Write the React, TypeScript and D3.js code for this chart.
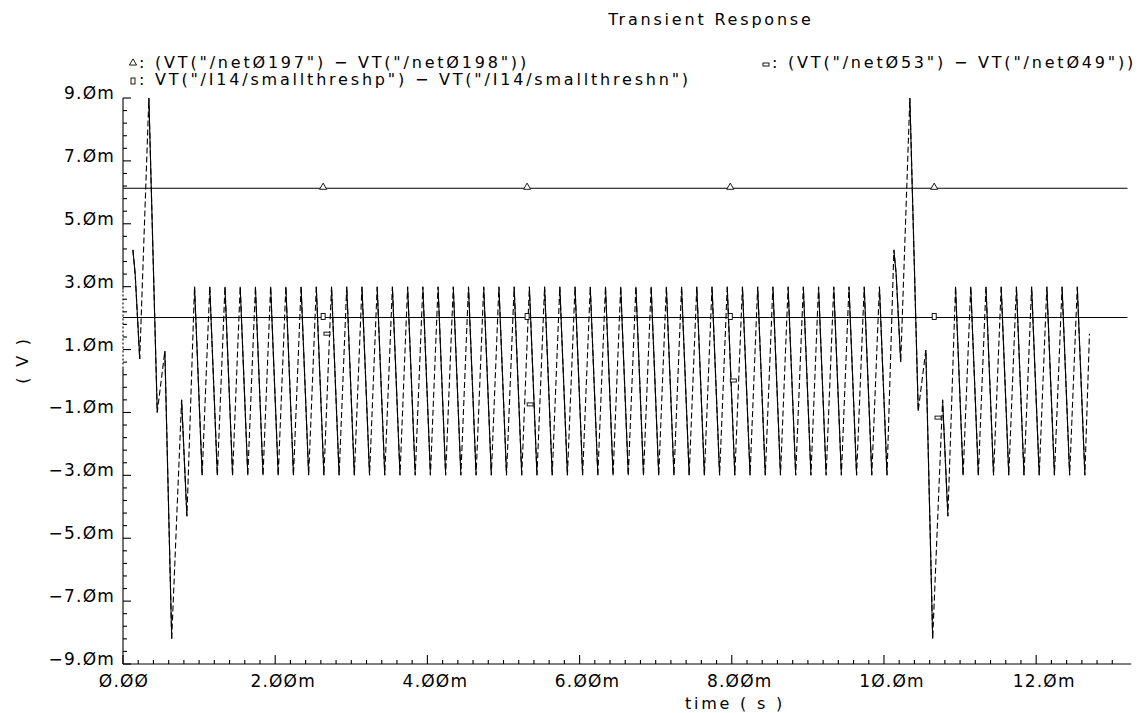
import { useEffect, useRef } from "react";
import * as d3 from "d3";

const W = 1142;
const H = 713;

// time in ms, voltages in mV
// (VT("/net053") - VT("/net049")) : oscillating trace
const oscTime = [
  0.13, 0.16, 0.22, 0.34, 0.45, 0.55, 0.64, 0.77, 0.84,
  0.94, 1.04, 1.14, 1.24, 1.34, 1.44, 1.54, 1.64, 1.74, 1.84, 1.94, 2.04, 2.14, 2.24, 2.34, 2.44,
  2.54, 2.64, 2.74, 2.84, 2.94, 3.04, 3.14, 3.24, 3.34, 3.44, 3.54, 3.64, 3.74, 3.84, 3.94, 4.04,
  4.14, 4.24, 4.34, 4.44, 4.54, 4.64, 4.74, 4.84, 4.94, 5.04, 5.14, 5.24, 5.34, 5.44, 5.54, 5.64,
  5.74, 5.84, 5.94, 6.04, 6.14, 6.24, 6.34, 6.44, 6.54, 6.64, 6.74, 6.84, 6.94, 7.04, 7.14, 7.24,
  7.34, 7.44, 7.54, 7.64, 7.74, 7.84, 7.94, 8.04, 8.14, 8.24, 8.34, 8.44, 8.54, 8.64, 8.74, 8.84,
  8.94, 9.04, 9.14, 9.24, 9.34, 9.44, 9.54, 9.64, 9.74, 9.84, 9.94, 10.04,
  10.13, 10.16, 10.22, 10.34, 10.45, 10.55, 10.64, 10.77, 10.84,
  10.94, 11.04, 11.14, 11.24, 11.34, 11.44, 11.54, 11.64, 11.74, 11.84, 11.94, 12.04, 12.14, 12.24,
  12.34, 12.44, 12.54, 12.64, 12.7,
];
const oscValue = [
  4.17, 3.4, 0.7, 9.0, -1.0, 0.95, -8.2, -0.6, -4.3,
  3.0, -3.0, 3.0, -3.0, 3.0, -3.0, 3.0, -3.0, 3.0, -3.0, 3.0, -3.0, 3.0, -3.0, 3.0, -3.0,
  3.0, -3.0, 3.0, -3.0, 3.0, -3.0, 3.0, -3.0, 3.0, -3.0, 3.0, -3.0, 3.0, -3.0, 3.0, -3.0,
  3.0, -3.0, 3.0, -3.0, 3.0, -3.0, 3.0, -3.0, 3.0, -3.0, 3.0, -3.0, 3.0, -3.0, 3.0, -3.0,
  3.0, -3.0, 3.0, -3.0, 3.0, -3.0, 3.0, -3.0, 3.0, -3.0, 3.0, -3.0, 3.0, -3.0, 3.0, -3.0,
  3.0, -3.0, 3.0, -3.0, 3.0, -3.0, 3.0, -3.0, 3.0, -3.0, 3.0, -3.0, 3.0, -3.0, 3.0, -3.0,
  3.0, -3.0, 3.0, -3.0, 3.0, -3.0, 3.0, -3.0, 3.0, -3.0, 3.0, -3.0,
  4.17, 3.4, 0.6, 9.0, -0.95, 0.98, -8.2, -0.6, -4.3,
  3.0, -3.0, 3.0, -3.0, 3.0, -3.0, 3.0, -3.0, 3.0, -3.0, 3.0, -3.0, 3.0, -3.0,
  3.0, -3.0, 3.0, -3.0, 1.5,
];
const oscMarkTime = [2.68, 5.35, 8.02, 10.71];
const oscMarkValue = [1.49, -0.76, 0.0, -1.18];

// (VT("/net0197") - VT("/net0198")) : flat at ~6.13m, triangle markers
const triTime = [0, 13.2];
const triValue = [6.13, 6.13];
// VT("/I14/smallthreshp") - VT("/I14/smallthreshn") : flat at ~2.02m, square markers
const sqTime = [0, 13.2];
const sqValue = [2.02, 2.02];
const markTime = [2.63, 5.31, 7.98, 10.66];

const xLabelValues = [0, 2, 4, 6, 8, 10, 12];
const xLabels = ["Ø.ØØ", "2.ØØm", "4.ØØm", "6.ØØm", "8.ØØm", "1Ø.Øm", "12.Øm"];
const yLabelValues = [9, 7, 5, 3, 1, -1, -3, -5, -7, -9];
const yLabels = ["9.Øm", "7.Øm", "5.Øm", "3.Øm", "1.Øm", "−1.Øm", "−3.Øm", "−5.Øm", "−7.Øm", "−9.Øm"];

const FONT = "DejaVu Sans";

export default function App() {
  const svgRef = useRef<SVGSVGElement>(null);

  useEffect(() => {
    const svg = d3.select(svgRef.current);
    svg.selectAll("*").remove();

    const x = d3.scaleLinear().domain([0, 13.2]).range([123, 1127.5]);
    const y = d3.scaleLinear().domain([-9, 9]).range([664, 98]);

    const txt = (sel: any) =>
      sel.attr("font-family", FONT).attr("font-size", 16).attr("letter-spacing", 2.8).attr("fill", "#000");
    const tickTxt = (sel: any) =>
      sel.attr("font-family", FONT).attr("font-size", 17).attr("letter-spacing", 1.2).attr("fill", "#000");

    // title
    svg.append("text").call(txt).attr("x", 711).attr("y", 25).attr("text-anchor", "middle").text("Transient Response");

    // axes
    const g = svg.append("g").attr("stroke", "#000").attr("stroke-width", 1.1);
    g.append("line").attr("x1", x(0)).attr("x2", x(13.25)).attr("y1", y(-9)).attr("y2", y(-9));
    g.append("line").attr("x1", x(0)).attr("x2", x(0)).attr("y1", y(-9)).attr("y2", y(0.4));
    g.append("line").attr("x1", x(0)).attr("x2", x(0)).attr("y1", y(0.4)).attr("y2", y(2.9)).attr("stroke-dasharray", "2,2");
    g.append("line").attr("x1", x(0)).attr("x2", x(0)).attr("y1", y(2.9)).attr("y2", y(9));

    const xTicks = d3.range(0, 66).map((i) => i * 0.2);
    g.selectAll(".xt")
      .data(xTicks)
      .join("line")
      .attr("x1", (d) => x(d))
      .attr("x2", (d) => x(d))
      .attr("y1", y(-9))
      .attr("y2", (d, i) => y(-9) - (i % 10 === 0 ? 9 : 4));

    const yTicks = d3.range(0, 46).map((i) => -9 + i * 0.4);
    g.selectAll(".yt")
      .data(yTicks)
      .join("line")
      .attr("y1", (d) => y(d))
      .attr("y2", (d) => y(d))
      .attr("x1", x(0))
      .attr("x2", (d, i) => x(0) + (i % 5 === 0 ? 8 : 4));

    svg
      .selectAll(".xl")
      .data(xLabelValues)
      .join("text")
      .call(tickTxt)
      .attr("x", (d, i) => x(d) + (i === 0 ? 1 : 8))
      .attr("y", 687)
      .attr("text-anchor", "middle")
      .text((d, i) => xLabels[i]);

    svg
      .selectAll(".yl")
      .data(yLabelValues)
      .join("text")
      .call(tickTxt)
      .attr("x", 115)
      .attr("y", (d) => y(d) + 1)
      .attr("text-anchor", "end")
      .text((d, i) => yLabels[i]);

    svg.append("text").call(txt).attr("x", 735).attr("y", 709).attr("text-anchor", "middle").text("time ( s )");
    svg
      .append("text")
      .call(txt)
      .attr("transform", `translate(28,360) rotate(-90)`)
      .attr("text-anchor", "middle")
      .text("( V )");

    // flat traces
    const line = d3
      .line<[number, number]>()
      .x((d) => x(d[0]))
      .y((d) => y(d[1]));
    const triPts = triTime.map((t, i) => [t, triValue[i]] as [number, number]);
    const sqPts = sqTime.map((t, i) => [t, sqValue[i]] as [number, number]);
    svg.append("path").attr("d", line(triPts)).attr("fill", "none").attr("stroke", "#000").attr("stroke-width", 1.1);
    svg.append("path").attr("d", line(sqPts)).attr("fill", "none").attr("stroke", "#000").attr("stroke-width", 1.1);

    // oscillating trace: dashed path, falling edges solid
    const oscPts = oscTime.map((t, i) => [t, oscValue[i]] as [number, number]);
    svg
      .append("path")
      .attr("d", line(oscPts))
      .attr("fill", "none")
      .attr("stroke", "#000")
      .attr("stroke-width", 1.1)
      .attr("stroke-dasharray", "6,3");
    const falling = oscPts.slice(1).map((p, i) => [oscPts[i], p]).filter((s) => s[1][1] < s[0][1]);
    svg
      .selectAll(".fall")
      .data(falling)
      .join("path")
      .attr("d", (s) => line(s as [number, number][]))
      .attr("fill", "none")
      .attr("stroke", "#000")
      .attr("stroke-width", 1.1);

    // markers
    const tri = d3.symbol().type(d3.symbolTriangle).size(22);
    svg
      .selectAll(".tri")
      .data(markTime)
      .join("path")
      .attr("d", tri)
      .attr("transform", (d) => `translate(${x(d)},${y(triValue[0]) - 1})`)
      .attr("fill", "#fff")
      .attr("stroke", "#000")
      .attr("stroke-width", 0.9);
    svg
      .selectAll(".sq")
      .data(markTime)
      .join("rect")
      .attr("x", (d) => x(d) - 2)
      .attr("y", y(sqValue[0]) - 4)
      .attr("width", 4)
      .attr("height", 6)
      .attr("fill", "#fff")
      .attr("stroke", "#000")
      .attr("stroke-width", 0.9);
    svg
      .selectAll(".om")
      .data(oscMarkTime)
      .join("rect")
      .attr("x", (d) => x(d) - 3)
      .attr("y", (d, i) => y(oscMarkValue[i]) - 2)
      .attr("width", 6)
      .attr("height", 3)
      .attr("fill", "#fff")
      .attr("stroke", "#000")
      .attr("stroke-width", 0.9);

    // legend
    const leg = svg.append("g");
    leg.append("path").attr("d", tri).attr("transform", "translate(133,63)").attr("fill", "none").attr("stroke", "#000").attr("stroke-width", 0.9);
    leg.append("text").call(txt).attr("x", 139).attr("y", 68).text(': (VT("/netØ197") − VT("/netØ198"))');
    leg.append("rect").attr("x", 131).attr("y", 78).attr("width", 4).attr("height", 6).attr("fill", "none").attr("stroke", "#000").attr("stroke-width", 0.9);
    leg.append("text").call(txt).attr("x", 139).attr("y", 85).text(': VT("/I14/smallthreshp") − VT("/I14/smallthreshn")');
    const right = leg
      .append("text")
      .call(txt)
      .attr("x", 1136)
      .attr("y", 68)
      .attr("text-anchor", "end")
      .text(': (VT("/netØ53") − VT("/netØ49"))');
    const bb = (right.node() as SVGTextElement).getBBox();
    leg.append("rect").attr("x", bb.x - 9).attr("y", 63).attr("width", 6).attr("height", 3).attr("fill", "none").attr("stroke", "#000").attr("stroke-width", 0.9);
  }, []);

  return (
    <svg
      ref={svgRef}
      width={W}
      height={H}
      style={{ position: "absolute", left: 0, top: 0, background: "#fff" }}
    />
  );
}
